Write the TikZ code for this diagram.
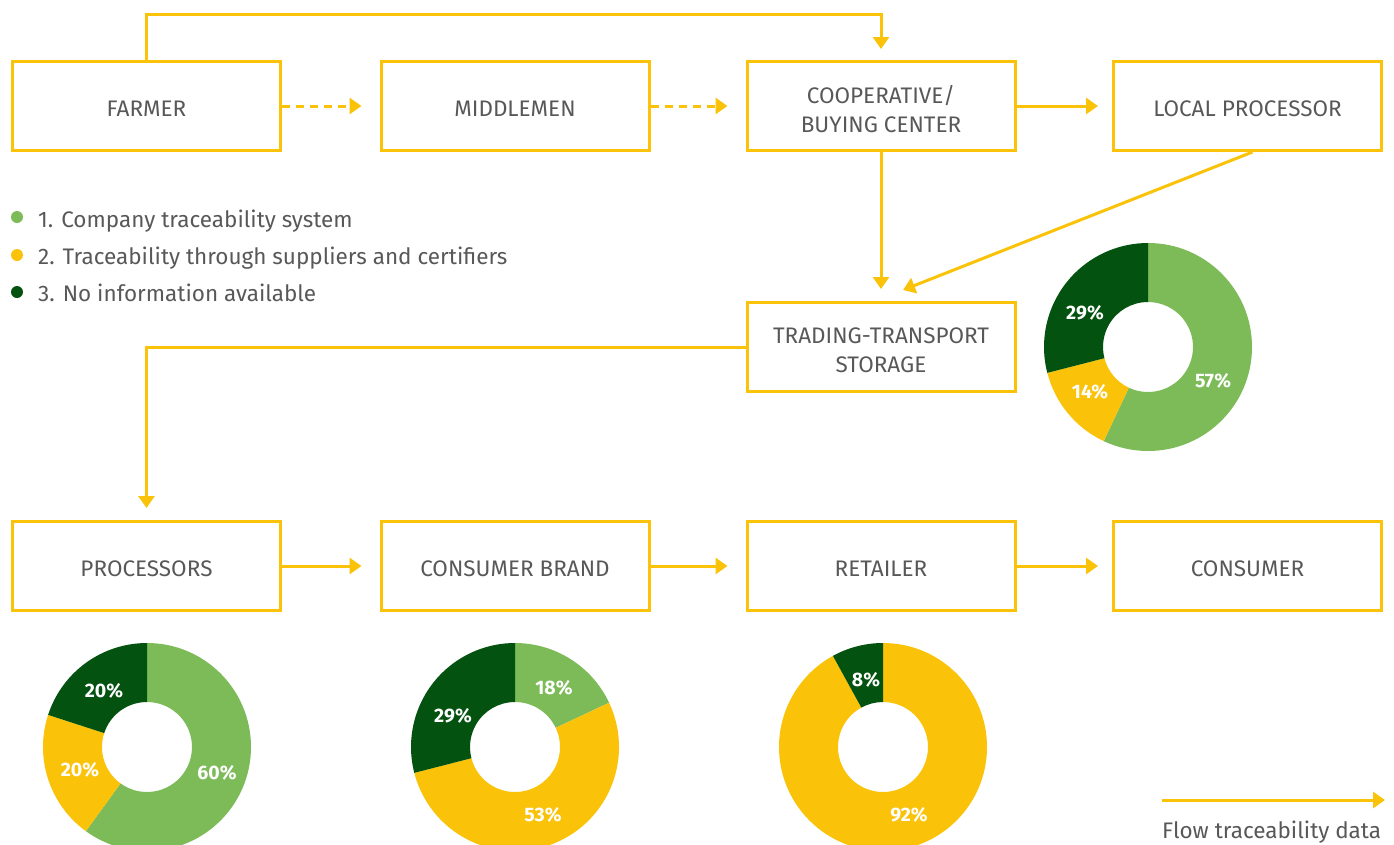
\documentclass[tikz,border=0pt]{standalone}
\usepackage{fontspec}
\setmainfont{Fira Sans}
\usetikzlibrary{arrows.meta,calc}
\definecolor{ylw}{HTML}{FAC30A}
\definecolor{lgrn}{HTML}{7CBB58}
\definecolor{dgrn}{HTML}{03520F}
\definecolor{txt}{HTML}{585858}
\newcommand\ringseg[5]{%
  \fill[#5] (#1,#2) ++(#3:104) arc[start angle=#3,end angle=#4,radius=104]
    -- ($(#1,#2)+(#4:45)$) arc[start angle=#4,end angle=#3,radius=45] -- cycle;}
\tikzset{
  boxbase/.style={draw=ylw, line width=3pt, minimum width=268pt, minimum height=89pt,
    text=txt, align=center, font=\fontsize{22.5}{29}\selectfont, inner sep=0pt},
  box/.style={boxbase, text height=21pt, text depth=0pt},
  boxtwo/.style={boxbase, label={[text=txt, align=center, font=\fontsize{22.5}{29}\selectfont,
    inner sep=0pt, yshift=-3pt]center:#1}},
  flow/.style={draw=ylw, line width=3pt, -{Triangle[length=12pt,width=16pt]}},
  dashflow/.style={flow, dash pattern=on 8pt off 6pt},
  legtext/.style={text=txt, anchor=base west, font=\fontsize{22.5}{26}\selectfont, inner sep=0pt},
  pct/.style={text=white, font=\bfseries\fontsize{19.5}{22}\selectfont, inner sep=0pt},
  dot/.style={circle, fill=#1, minimum size=12pt, inner sep=0pt}
}
\begin{document}
\begin{tikzpicture}[x=1pt,y=1pt]
\useasboundingbox (0,0) rectangle (1394,-844);
\begin{scope}
\clip (0,0) rectangle (1394,-844);
% nodes
\node[box] (farmer) at (146.5,-106) {FARMER};
\node[box] (middle) at (515,-106) {MIDDLEMEN};
\node[boxtwo={COOPERATIVE/\\BUYING CENTER}] (coop) at (881,-106) {};
\node[box] (local) at (1247.5,-106) {LOCAL PROCESSOR};
\node[boxtwo={TRADING-TRANSPORT\\STORAGE}] (trading) at (881,-347) {};
\node[box] (proc) at (146.5,-566) {PROCESSORS};
\node[box] (brand) at (515,-566) {CONSUMER BRAND};
\node[box] (retail) at (881,-566) {RETAILER};
\node[box] (consumer) at (1247.5,-566) {CONSUMER};
% connectors
\draw[flow] (farmer.north) -- ++(0,45.5) -| ([yshift=11pt]coop.north);
\draw[dashflow] (farmer.east) -- ([xshift=-18pt]middle.west);
\draw[dashflow] (middle.east) -- ([xshift=-18pt]coop.west);
\draw[flow] (coop.east) -- ([xshift=-14pt]local.west);
\draw[flow] (coop.south) -- ([yshift=12pt]trading.north);
\draw[flow] ([xshift=5pt]local.south) -- ([xshift=22pt,yshift=11pt]trading.north);
\draw[flow] (trading.west) -| ([yshift=12pt]proc.north);
\draw[flow] (proc.east) -- ([xshift=-18pt]brand.west);
\draw[flow] (brand.east) -- ([xshift=-18pt]retail.west);
\draw[flow] (retail.east) -- ([xshift=-14pt]consumer.west);
% legend
\node[dot=lgrn] (d1) at (17,-217) {};
\node[dot=ylw] (d2) at (17,-255) {};
\node[dot=dgrn] (d3) at (17,-292) {};
\node[legtext] (l1) at (38,-227) {1. Company traceability system};
\node[legtext] (l2) at (38,-264) {2. Traceability through suppliers and certifiers};
\node[legtext] (l3) at (38,-301) {3. No information available};
\coordinate (fa) at (1162,-800);
\coordinate (fb) at (1385,-800);
\draw[flow] (fa) -- (fb);
\node[legtext] (fl) at (1162,-838) {Flow traceability data};
% donut 1 (trading)
\ringseg{1148}{-347}{90}{-115.2}{lgrn}
\ringseg{1148}{-347}{-115.2}{-165.6}{ylw}
\ringseg{1148}{-347}{-165.6}{-270}{dgrn}
\node[pct] (t57) at (1213,-381) {57\%};
\node[pct] (t14) at (1090,-392) {14\%};
\node[pct] (t29) at (1085,-313) {29\%};
% donut 2 (processors)
\ringseg{147}{-747}{90}{-126}{lgrn}
\ringseg{147}{-747}{-126}{-198}{ylw}
\ringseg{147}{-747}{-198}{-270}{dgrn}
\node[pct] (p60) at (217,-773) {60\%};
\node[pct] (p20a) at (80,-770) {20\%};
\node[pct] (p20b) at (104,-691) {20\%};
% donut 3 (consumer brand)
\ringseg{515}{-747}{90}{25.2}{lgrn}
\ringseg{515}{-747}{25.2}{-165.6}{ylw}
\ringseg{515}{-747}{-165.6}{-270}{dgrn}
\node[pct] (b18) at (554,-688) {18\%};
\node[pct] (b53) at (543,-815) {53\%};
\node[pct] (b29) at (453,-716) {29\%};
% donut 4 (retailer)
\ringseg{883}{-747}{90}{-241.2}{ylw}
\ringseg{883}{-747}{-241.2}{-270}{dgrn}
\node[pct] (r8) at (866,-680) {8\%};
\node[pct] (r92) at (909,-815) {92\%};
\end{scope}
\end{tikzpicture}
\end{document}
